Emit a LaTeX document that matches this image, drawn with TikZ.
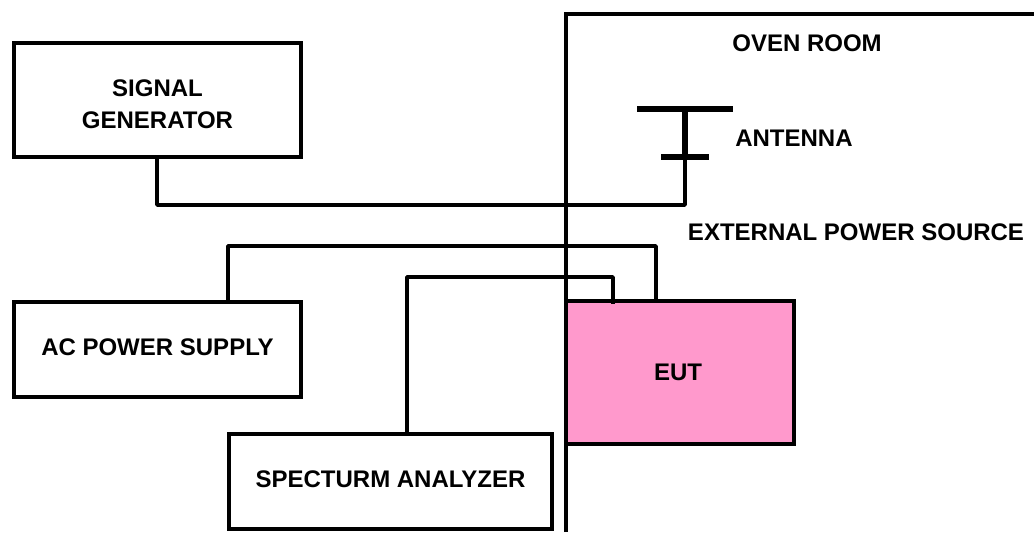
\documentclass[tikz,border=0pt]{standalone}
\usepackage{fontspec}
\setmainfont{Liberation Sans}
\usepackage{tikz}
\definecolor{eutpink}{HTML}{FF99CC}
\tikzset{
  unitbox/.style={draw=black, line width=3pt, fill=white, align=center, inner sep=0pt},
  boxlabel/.style={font=\fontsize{18}{24}\selectfont\bfseries, text=black, inner sep=0pt},
  wire/.style={draw=black, line width=2.6pt, line join=round}
}
\begin{document}
\begin{tikzpicture}[x=0.75pt, y=-0.75pt]
\useasboundingbox (0,0) rectangle (1034,532);

% --- Oven room wall ---
\coordinate (wallbottom) at (566,532);
\coordinate (wallcorner) at (566,14);
\coordinate (wallright) at (1034,14);

% --- Attachment points ---
\coordinate (antfeed) at (685,157);
\coordinate (acout) at (228,302);
\coordinate (saout) at (407,434);
\coordinate (eutsense) at (613,304);
\coordinate (eutpower) at (656,302);

% Wires first, boxes sit on top
\draw[wire] (157,157) coordinate (sgout) |- (antfeed |- 0,205) -- (antfeed);
\draw[wire] (acout) |- (eutpower |- 0,246) -- (eutpower);
\draw[wire] (saout) |- (eutsense |- 0,277) -- (eutsense);

% Boxes
\node[unitbox, boxlabel, minimum width=215.25pt, minimum height=85.5pt] (siggen) at (157.5,100)
  {\rule{0pt}{19pt}SIGNAL\\GENERATOR};
\node[unitbox, boxlabel, minimum width=215.25pt, minimum height=71.25pt] (acpower) at (157.5,349.5)
  {\rule[-3pt]{0pt}{3pt}AC POWER SUPPLY};
\node[unitbox, boxlabel, minimum width=242.25pt, minimum height=71.25pt] (specan) at (390.5,481.5)
  {\rule[-3pt]{0pt}{3pt}SPECTURM ANALYZER};
\node[unitbox, boxlabel, fill=eutpink, minimum width=171pt, minimum height=107.25pt] (eut) at (680,372.5)
  {EUT\kern3pt};

% Sense wire just bites into the EUT top edge
\draw[wire] (eutsense |- 0,300) -- (eutsense);

\draw[line width=3pt, line join=miter] (wallbottom) -- (wallcorner) -- (wallright);

% Antenna
\coordinate (anttop) at (685,109);
\draw[line width=4pt] (637,109) coordinate (antl) -- (733,109) coordinate (antr);
\draw[line width=4pt] (anttop) -- (antfeed);
\draw[line width=4pt] (661,157) coordinate (antlowl) -- (709,157) coordinate (antlowr);

% Labels
\node[boxlabel] (ovenroom) at (807,43) {OVEN ROOM};
\node[boxlabel, anchor=west] (antenna) at (735,138) {ANTENNA};
\node[boxlabel] (extsource) at (856,232) {EXTERNAL POWER SOURCE};
\end{tikzpicture}
\end{document}
